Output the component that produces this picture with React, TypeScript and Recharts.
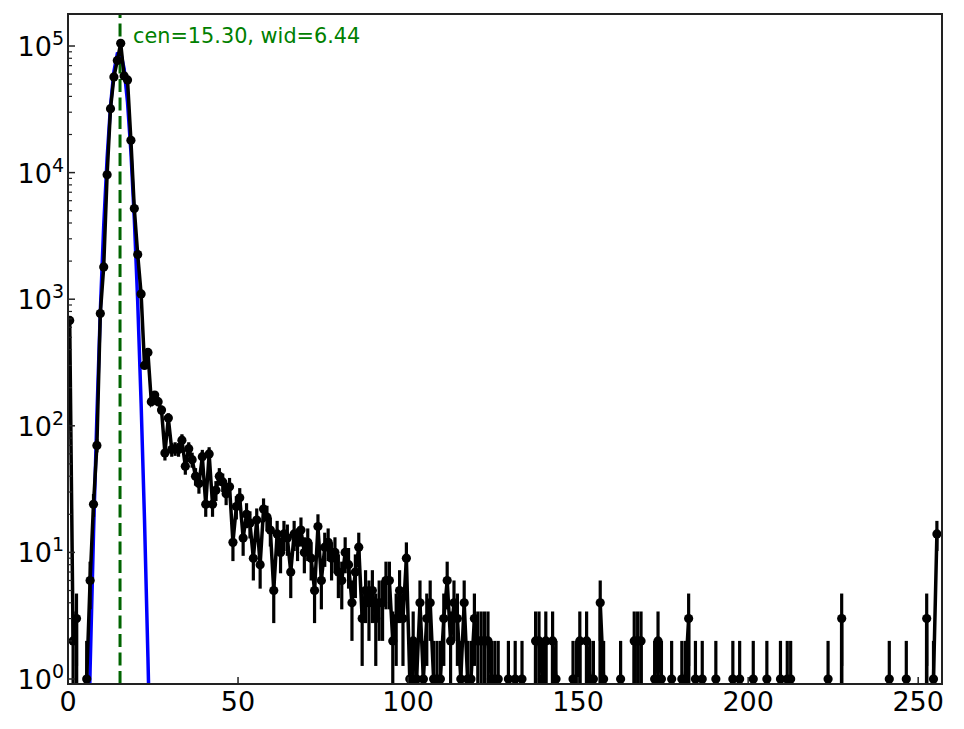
import { LineChart, Line, XAxis, YAxis, ErrorBar } from 'recharts'

// histogram counts per bin (bin i drawn at i + 0.5)
const COUNTS = [
  680, 2, 3, 0, 0, 1, 6, 24, 70, 770,
  1800, 9600, 32000, 57000, 77000, 105000, 58000, 54000, 18000, 5200,
  2250, 1100, 300, 380, 155, 175, 155, 133, 61, 115,
  65, 66, 65, 77, 48, 66, 54, 40, 35, 57,
  24, 60, 24, 31, 40, 36, 29, 33, 12, 23,
  27, 13, 20, 17, 9, 18, 8, 22, 19, 15,
  5, 14, 10, 14, 13, 7, 14, 12, 15, 10,
  12, 9, 5, 16, 6, 11, 12, 9, 10, 7,
  6, 10, 8, 4, 7, 11, 3, 5, 4, 5,
  3, 4, 4, 6, 6, 2, 3, 5, 3, 9,
  1, 2, 1, 4, 1, 3, 4, 1, 1, 1,
  3, 6, 2, 4, 3, 1, 4, 1, 1, 3,
  2, 2, 2, 2, 1, 1, 1, 0, 0, 1,
  0, 1, 0, 1, 0, 0, 0, 2, 2, 1,
  2, 0, 2, 1, 0, 0, 0, 0, 1, 1,
  2, 0, 2, 1, 1, 0, 4, 1, 0, 0,
  0, 0, 1, 0, 0, 0, 2, 2, 2, 0,
  0, 0, 1, 2, 1, 0, 0, 1, 0, 0,
  1, 1, 3, 0, 1, 0, 1, 0, 0, 0,
  1, 0, 0, 0, 0, 1, 0, 1, 0, 0,
  0, 1, 0, 0, 0, 1, 0, 0, 0, 1,
  0, 1, 1, 0, 0, 0, 0, 0, 0, 0,
  0, 0, 0, 1, 0, 0, 0, 3, 0, 0,
  0, 0, 0, 0, 0, 0, 0, 0, 0, 0,
  0, 1, 0, 0, 0, 0, 1, 0, 0, 0,
  0, 0, 3, 0, 1, 14,
]

// gaussian fit
const FIT_X = [5.5, 6.5, 7.5, 8.5, 9.5, 10.5, 11.5, 12.5, 13.5, 14.5,
  15.5, 16.5, 17.5, 18.5, 19.5, 20.5, 21.5, 22.5, 23.5, 24.5]
const FIT_Y = [0.07, 1.2, 14, 120, 800, 3800, 13000, 33500, 63000, 87000,
  88000, 66000, 36000, 14600, 4300, 950, 150, 18, 1.5, 0.1]

const CEN = 15.30
const WID = 6.44

const X_TICKS = [0, 50, 100, 150, 200, 250]
const Y_DECADES = [1, 10, 100, 1000, 10000, 100000]
const Y_MINOR = [2, 3, 4, 5, 6, 7, 8, 9]

const X_DOMAIN: [number, number] = [0, 257]
const Y_MIN = 0.913
const Y_MAX = 179000
const ZERO_FLOOR = 1e-30 // empty bins drop off the bottom like matplotlib's clip

const W = 964
const H = 729
const LEFT = 68
const TOP = 14
const RIGHT = 942
const BOTTOM = 684
const FONT = 'DejaVu Sans, sans-serif'
const AXIS = '#222'

const rows = COUNTS.map((n, i) => {
  const y = n > 0 ? n : ZERO_FLOOR
  const e = Math.sqrt(n)
  const lo = n > 0 ? n - Math.max(n - e, Y_MIN) : 0
  return { x: i + 0.5, y, n, err: [lo, e] }
})
const fitRows = FIT_X.map((x, i) => ({ x, y: FIT_Y[i] }))
const cenRows = [{ x: CEN, y: Y_MIN }, { x: CEN, y: Y_MAX }]

const yTicks = Y_DECADES.flatMap(d => (d < 100000 ? [d, ...Y_MINOR.map(m => m * d)] : [d]))

function XTick(props: any) {
  const { x, payload } = props
  return (
    <g>
      <line x1={x} x2={x} y1={BOTTOM} y2={BOTTOM - 7} stroke={AXIS} strokeWidth={1.5} />
      <text x={x} y={711} textAnchor="middle" fontSize={27} fontFamily={FONT} fill="#000">
        {payload.value}
      </text>
    </g>
  )
}

function YTick(props: any) {
  const { y, payload } = props
  const v = payload.value
  const exp = Math.round(Math.log10(v))
  const major = Math.abs(Math.log10(v) - exp) < 1e-9
  if (!major) {
    return <line x1={LEFT} x2={LEFT + 4} y1={y} y2={y} stroke={AXIS} strokeWidth={1.2} />
  }
  return (
    <g>
      <line x1={LEFT} x2={LEFT + 7} y1={y} y2={y} stroke={AXIS} strokeWidth={1.5} />
      <text x={64} y={y + 10} textAnchor="end" fontSize={27} fontFamily={FONT} fill="#000">
        10<tspan dy={-11} fontSize={19}>{exp}</tspan>
      </text>
    </g>
  )
}

function CountDot(props: any) {
  const { cx, cy, payload, index } = props
  if (!payload || payload.n <= 0) return <g key={`d${index}`} />
  return <circle key={`d${index}`} cx={cx} cy={cy} r={4.6} fill="#000" />
}

export default function App() {
  return (
    <div style={{ position: 'absolute', left: 0, top: 0, width: W, height: H, background: '#fff' }}>
      <LineChart width={W} height={H} margin={{ top: TOP, right: W - RIGHT, bottom: 0, left: 0 }}>
        <XAxis
          type="number"
          dataKey="x"
          domain={X_DOMAIN}
          allowDataOverflow
          ticks={X_TICKS}
          interval={0}
          tick={XTick}
          tickLine={false}
          axisLine={false}
          height={H - BOTTOM}
        />
        <YAxis
          type="number"
          scale="log"
          domain={[Y_MIN, Y_MAX]}
          allowDataOverflow
          ticks={yTicks}
          interval={0}
          tick={YTick}
          tickLine={false}
          axisLine={false}
          width={LEFT}
        />
        <Line
          data={cenRows}
          dataKey="y"
          stroke="#006400"
          strokeWidth={3}
          strokeDasharray="13 5.5"
          dot={false}
          activeDot={false}
          isAnimationActive={false}
        />
        <Line
          data={fitRows}
          dataKey="y"
          type="linear"
          stroke="#0000ff"
          strokeWidth={3.5}
          dot={false}
          activeDot={false}
          isAnimationActive={false}
        />
        <Line
          data={rows}
          dataKey="y"
          type="linear"
          stroke="#000"
          strokeWidth={3.5}
          dot={CountDot}
          activeDot={false}
          isAnimationActive={false}
        >
          <ErrorBar dataKey="err" direction="y" width={0} stroke="#000" strokeWidth={3.2} isAnimationActive={false} />
        </Line>
      </LineChart>
      <svg
        width={W}
        height={H}
        style={{ position: 'absolute', left: 0, top: 0, pointerEvents: 'none' }}
      >
        <rect x={LEFT} y={TOP} width={RIGHT - LEFT} height={BOTTOM - TOP} fill="none" stroke={AXIS} strokeWidth={2} />
        <text x={133} y={43} fontSize={20.8} fontFamily={FONT} fill="#008000">
          {`cen=${CEN.toFixed(2)}, wid=${WID.toFixed(2)}`}
        </text>
      </svg>
    </div>
  )
}
